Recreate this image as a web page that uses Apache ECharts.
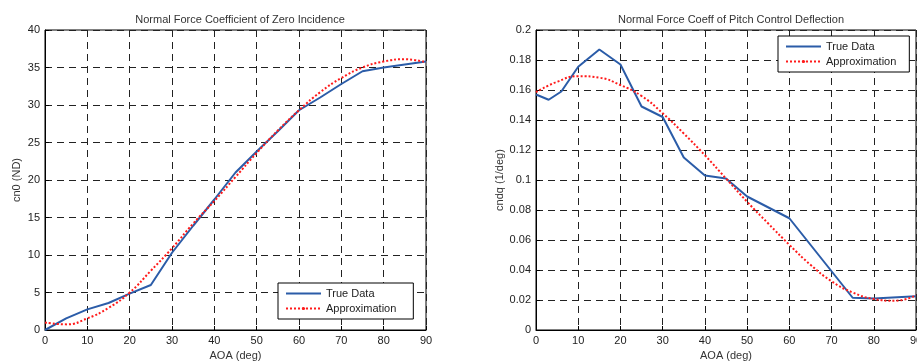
<!DOCTYPE html>
<html>
<head>
<meta charset="utf-8">
<script src="https://cdn.jsdelivr.net/npm/echarts@6/dist/echarts.min.js"></script>
<style>
  html, body { margin: 0; padding: 0; background: #fff; }
  #chart { width: 917px; height: 362px; }
</style>
</head>
<body>
<div id="chart"></div>
<script>
// left plot: cn0 vs AOA
const aoaLeft = [0, 5, 10, 15, 20, 25, 30, 35, 40, 45, 50, 55, 60, 65, 70, 75, 80, 85, 90];
const cn0True = [0, 1.55, 2.75, 3.6, 4.85, 6.0, 10.3, 13.9, 17.4, 21.0, 23.8, 26.5, 29.3, 31.0, 32.8, 34.5, 35.0, 35.4, 35.8];
const cn0Approx = [1.0, 0.75, 1.55, 2.95, 5.0, 7.9, 10.9, 14.2, 17.2, 20.4, 23.6, 26.6, 29.3, 31.7, 33.6, 35.0, 35.8, 36.1, 35.7];

// right plot: cndq vs AOA
const aoaRightTrue = [0, 3, 6, 10, 15, 20, 25, 30, 35, 40, 45, 50, 60, 75, 80, 90];
const cndqTrue = [0.157, 0.1535, 0.159, 0.1755, 0.187, 0.177, 0.149, 0.142, 0.115, 0.103, 0.101, 0.089, 0.0745, 0.0215, 0.021, 0.0225];
const aoaRightApprox = [0, 5, 10, 15, 20, 25, 30, 35, 40, 45, 50, 55, 60, 65, 70, 75, 80, 85, 90];
const cndqApprox = [0.1585, 0.1655, 0.1692, 0.1682, 0.1633, 0.156, 0.1445, 0.131, 0.1165, 0.101, 0.0855, 0.071, 0.0568, 0.0435, 0.0325, 0.025, 0.0207, 0.0195, 0.023];

const xTicks = { min: 0, max: 90, interval: 10 };
const yTicksLeft = { min: 0, max: 40, interval: 5 };
const yTicksRight = { min: 0, max: 0.2, interval: 0.02 };

const pairs = (xs, ys) => xs.map((x, i) => [x, ys[i]]);

const font = 'Liberation Sans, Arial, sans-serif';
const blue = '#2b5ca8';
const red = '#ff1a1a';

const dashed = { show: true, lineStyle: { color: '#222', width: 1, type: [7, 5] } };
const axisCommon = {
  type: 'value',
  axisLine: { show: true, lineStyle: { color: '#000', width: 1 } },
  axisTick: { show: true, inside: true, length: 4, lineStyle: { color: '#000' } },
  axisLabel: { color: '#222', fontSize: 11, fontFamily: font, margin: 5 },
  splitLine: dashed,
  nameTextStyle: { color: '#333', fontSize: 11, fontFamily: font }
};

const legendCommon = {
  orient: 'vertical',
  backgroundColor: '#fff',
  borderColor: '#000',
  borderWidth: 1,
  borderRadius: 0,
  itemWidth: 35,
  itemHeight: 4,
  itemGap: 4,
  selectedMode: false,
  textStyle: { color: '#222', fontSize: 11, fontFamily: font },
  data: [
    { name: 'True Data', itemStyle: { color: 'transparent', borderWidth: 0 }, lineStyle: { color: blue, width: 2, type: 'solid' } },
    { name: 'Approximation', itemStyle: { color: red, borderWidth: 0 }, lineStyle: { color: red, width: 2, type: [2, 2] } }
  ]
};

const chart = echarts.init(document.getElementById('chart'));

const options = {
  backgroundColor: '#fff',
  animation: false,
  title: [
    { text: 'Normal Force Coefficient of Zero Incidence', left: 235, top: 9, textAlign: 'center',
      textStyle: { fontSize: 11, fontWeight: 'normal', color: '#333', fontFamily: font } },
    { text: 'Normal Force Coeff of Pitch Control Deflection', left: 726, top: 9, textAlign: 'center',
      textStyle: { fontSize: 11, fontWeight: 'normal', color: '#333', fontFamily: font } }
  ],
  grid: [
    { left: 45, top: 30, width: 381, height: 300, show: true, borderColor: '#000', borderWidth: 1, outerBoundsMode: 'none' },
    { left: 536, top: 30, width: 380, height: 300, show: true, borderColor: '#000', borderWidth: 1, outerBoundsMode: 'none' }
  ],
  xAxis: [
    Object.assign({}, axisCommon, xTicks, { gridIndex: 0, name: 'AOA (deg)', nameLocation: 'middle', nameGap: 18 }),
    Object.assign({}, axisCommon, xTicks, { gridIndex: 1, name: 'AOA (deg)', nameLocation: 'middle', nameGap: 18 })
  ],
  yAxis: [
    Object.assign({}, axisCommon, yTicksLeft, { gridIndex: 0, name: 'cn0 (ND)', nameLocation: 'middle', nameGap: 23 }),
    Object.assign({}, axisCommon, yTicksRight, { gridIndex: 1, name: 'cndq (1/deg)', nameLocation: 'middle', nameGap: 31 })
  ],
  legend: [
    Object.assign({}, legendCommon, { left: 278, top: 283, padding: [5, 17, 5, 7] }),
    Object.assign({}, legendCommon, { left: 778, top: 36, padding: [5, 13, 5, 7] })
  ],
  series: [
    { name: 'True Data', type: 'line', xAxisIndex: 0, yAxisIndex: 0, data: pairs(aoaLeft, cn0True),
      symbol: 'none', lineStyle: { color: blue, width: 2 }, itemStyle: { color: blue }, z: 3 },
    { name: 'Approximation', type: 'line', xAxisIndex: 0, yAxisIndex: 0, data: pairs(aoaLeft, cn0Approx),
      symbol: 'none', smooth: true, lineStyle: { color: red, width: 2, type: [2, 2] }, itemStyle: { color: red }, z: 4 },
    { name: 'True Data', type: 'line', xAxisIndex: 1, yAxisIndex: 1, data: pairs(aoaRightTrue, cndqTrue),
      symbol: 'none', lineStyle: { color: blue, width: 2 }, itemStyle: { color: blue }, z: 3 },
    { name: 'Approximation', type: 'line', xAxisIndex: 1, yAxisIndex: 1, data: pairs(aoaRightApprox, cndqApprox),
      symbol: 'none', smooth: true, lineStyle: { color: red, width: 2, type: [2, 2] }, itemStyle: { color: red }, z: 4 }
  ]
};

chart.setOption(options);
</script>
</body>
</html>
